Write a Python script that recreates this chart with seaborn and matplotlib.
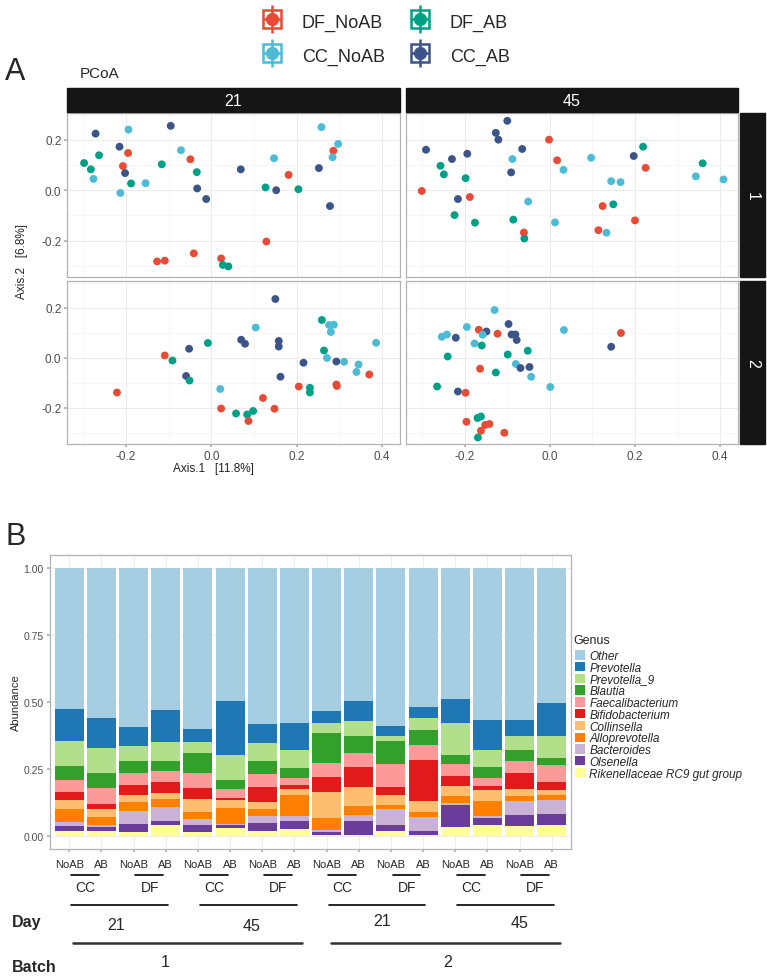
import numpy as np
import pandas as pd
import matplotlib
matplotlib.use('Agg')
import matplotlib.pyplot as plt
import matplotlib.transforms as mtrans
from matplotlib.ticker import FormatStrFormatter
import seaborn as sns
from matplotlib.lines import Line2D
from matplotlib.patches import Patch, Rectangle
from matplotlib.legend_handler import HandlerTuple

sns.set_theme(style="white")
plt.rcParams['font.family'] = ['Liberation Sans', 'DejaVu Sans']

W, H = 767, 979

# ---------------- Panel A: PCoA ----------------
grupos = {'DN': 'DF_NoAB', 'DA': 'DF_AB', 'CN': 'CC_NoAB', 'CA': 'CC_AB'}
colores = {'DF_NoAB': '#E64B35', 'DF_AB': '#00A087',
           'CC_NoAB': '#4DBBD5', 'CC_AB': '#3C5488'}

# batch 1, day 21
b1d21_x = [-0.271, -0.194, -0.095, 0.258, 0.297, 0.286, 0.284, -0.215, -0.195, -0.263,
           -0.298, -0.282, -0.276, -0.207, -0.202, -0.188, -0.213, -0.154, -0.116, -0.071,
           -0.049, -0.034, -0.033, -0.012, 0.069, 0.147, 0.181, 0.127, 0.152, 0.204,
           0.252, 0.278, 0.129, -0.041, -0.127, -0.109, 0.023, 0.027, 0.040]
b1d21_y = [0.225, 0.241, 0.256, 0.251, 0.184, 0.157, 0.131, 0.173, 0.148, 0.139,
           0.108, 0.083, 0.045, 0.096, 0.068, 0.027, -0.011, 0.028, 0.103, 0.159,
           0.123, 0.072, 0.007, -0.035, 0.083, 0.127, 0.061, 0.011, 0.000, 0.004,
           0.088, -0.063, -0.204, -0.251, -0.283, -0.280, -0.271, -0.297, -0.303]
b1d21_g = ['CA', 'CN', 'CA', 'CN', 'CN', 'DN', 'CN', 'CA', 'DN', 'DA',
           'DA', 'DA', 'CN', 'DN', 'CA', 'DA', 'CN', 'CN', 'DA', 'CN',
           'DN', 'DA', 'CA', 'CA', 'CA', 'CN', 'DN', 'DA', 'CA', 'DA',
           'CA', 'CA', 'DN', 'DN', 'DN', 'DN', 'DN', 'DA', 'DA']

# batch 1, day 45
b1d45_x = [-0.100, -0.127, -0.121, -0.291, -0.230, -0.194, -0.065, -0.091, -0.216, 0.197,
           -0.002, 0.017, -0.301, -0.188, -0.061, 0.124, 0.114, 0.200, 0.225,
           0.219, 0.359, -0.257, -0.249, -0.198, -0.224, -0.176, -0.086, -0.060, 0.149,
           -0.088, 0.032, 0.097, 0.144, 0.166, 0.343, 0.408, -0.051, 0.012, 0.133]
b1d45_y = [0.276, 0.228, 0.201, 0.161, 0.124, 0.145, 0.164, 0.071, -0.035, 0.136,
           0.201, 0.119, -0.003, -0.027, -0.168, -0.063, -0.159, -0.120, 0.089,
           0.173, 0.107, 0.097, 0.063, 0.048, -0.099, -0.129, -0.117, -0.192, -0.056,
           0.124, 0.081, 0.129, 0.036, 0.032, 0.055, 0.043, -0.045, -0.128, -0.169]
b1d45_g = ['CA'] * 10 + ['DN'] * 9 + ['DA'] * 10 + ['CN'] * 10

# batch 2, day 21
b2d21_x = [0.150, 0.259, 0.276, 0.287, 0.280, 0.104, 0.070, 0.079, 0.158, 0.158,
           -0.008, -0.052, -0.109, -0.091, -0.059, -0.051, 0.386, 0.264, 0.271, 0.216,
           0.293, 0.311, 0.345, 0.340, 0.370, 0.162, 0.205, 0.293, 0.294, 0.231,
           0.231, -0.221, 0.021, 0.023, 0.058, 0.084, 0.098, 0.087, 0.121, 0.148]
b2d21_y = [0.235, 0.151, 0.131, 0.132, 0.103, 0.121, 0.072, 0.056, 0.067, 0.045,
           0.059, 0.036, 0.009, -0.011, -0.073, -0.091, 0.060, 0.029, -0.001, -0.020,
           -0.015, -0.016, -0.027, -0.057, -0.067, -0.076, -0.115, -0.107, -0.113, -0.120,
           -0.139, -0.139, -0.125, -0.203, -0.223, -0.227, -0.213, -0.253, -0.161, -0.204]
b2d21_g = ['CA', 'DA', 'CN', 'CN', 'CN', 'CN', 'CA', 'CA', 'CA', 'CA',
           'DA', 'CA', 'DN', 'DA', 'CA', 'DA', 'CN', 'DA', 'CN', 'CA',
           'CA', 'CN', 'CN', 'CN', 'DN', 'CA', 'DN', 'DN', 'DN', 'DA',
           'DA', 'DN', 'CN', 'DN', 'DA', 'DA', 'DA', 'DN', 'DN', 'DN']

# batch 2, day 45
b2d45_x = [-0.130, -0.097, -0.195, -0.167, -0.149, -0.158, -0.123, -0.090, -0.081, -0.078,
           -0.254, -0.242, -0.221, -0.177, -0.160, -0.240, -0.099, -0.052, 0.033, 0.167,
           0.144, -0.164, -0.127, -0.080, -0.069, -0.048, -0.044, 0.001, -0.265, -0.216,
           -0.198, -0.196, -0.170, -0.162, -0.152, -0.142, -0.162, -0.107, -0.169]
b2d45_y = [0.191, 0.135, 0.123, 0.112, 0.105, 0.092, 0.096, 0.093, 0.093, 0.071,
           0.084, 0.093, 0.080, 0.057, 0.049, 0.005, 0.013, 0.028, 0.111, 0.099,
           0.044, -0.044, -0.059, -0.025, -0.041, -0.037, -0.076, -0.117, -0.115, -0.135,
           -0.140, -0.256, -0.241, -0.235, -0.269, -0.265, -0.292, -0.300, -0.319]
b2d45_g = ['CN', 'CA', 'CN', 'DN', 'CA', 'CN', 'DN', 'CA', 'CA', 'CA',
           'CN', 'CN', 'CA', 'CN', 'DA', 'DA', 'DA', 'DA', 'CN', 'DN',
           'CA', 'DN', 'DA', 'CN', 'CA', 'CA', 'CN', 'CN', 'DA', 'CA',
           'DN', 'DN', 'DA', 'DA', 'DN', 'DN', 'DN', 'DN', 'DA']

# ---------------- Panel B: abundancias ----------------
generos = ['Other', 'Prevotella', 'Prevotella_9', 'Blautia', 'Faecalibacterium',
           'Bifidobacterium', 'Collinsella', 'Alloprevotella', 'Bacteroides',
           'Olsenella', 'Rikenellaceae RC9 gut group']
other = [0.527, 0.562, 0.595, 0.529, 0.600, 0.499, 0.583, 0.579,
         0.536, 0.498, 0.593, 0.520, 0.491, 0.566, 0.566, 0.503]
prevotella = [0.120, 0.110, 0.070, 0.121, 0.050, 0.201, 0.074, 0.102,
              0.045, 0.075, 0.035, 0.039, 0.087, 0.114, 0.061, 0.126]
prevotella_9 = [0.092, 0.093, 0.056, 0.069, 0.042, 0.094, 0.065, 0.066,
                0.037, 0.055, 0.019, 0.046, 0.123, 0.062, 0.053, 0.080]
blautia = [0.054, 0.056, 0.044, 0.040, 0.074, 0.034, 0.049, 0.037,
           0.110, 0.065, 0.088, 0.057, 0.031, 0.043, 0.039, 0.027]
faecalibacterium = [0.045, 0.060, 0.044, 0.041, 0.055, 0.032, 0.048, 0.026,
                    0.055, 0.050, 0.084, 0.054, 0.046, 0.030, 0.047, 0.063]
bifidobacterium = [0.030, 0.019, 0.040, 0.040, 0.041, 0.008, 0.057, 0.018,
                   0.054, 0.077, 0.030, 0.154, 0.039, 0.015, 0.058, 0.032]
collinsella = [0.032, 0.033, 0.026, 0.024, 0.049, 0.028, 0.028, 0.022,
               0.099, 0.071, 0.039, 0.040, 0.036, 0.041, 0.027, 0.016]
alloprevotella = [0.051, 0.027, 0.034, 0.027, 0.025, 0.060, 0.025, 0.078,
                  0.045, 0.031, 0.015, 0.020, 0.025, 0.054, 0.019, 0.018]
bacteroides = [0.015, 0.008, 0.047, 0.053, 0.023, 0.006, 0.025, 0.020,
               0.005, 0.024, 0.061, 0.054, 0.010, 0.009, 0.054, 0.054]
olsenella = [0.019, 0.017, 0.031, 0.016, 0.028, 0.009, 0.032, 0.027,
             0.012, 0.051, 0.022, 0.013, 0.082, 0.026, 0.041, 0.042]
rikenellaceae = [0.016, 0.016, 0.013, 0.040, 0.013, 0.030, 0.016, 0.026,
                 0.003, 0.004, 0.016, 0.003, 0.031, 0.040, 0.035, 0.039]

batch = ['1'] * 8 + ['2'] * 8
day = (['21'] * 4 + ['45'] * 4) * 2
sitio = ['CC', 'CC', 'DF', 'DF'] * 4
trat = ['NoAB', 'AB'] * 8

# ---------------- Helpers ----------------
def caja(x0, y0, x1, y1):
    return [x0 / W, 1 - y1 / H, (x1 - x0) / W, (y1 - y0) / H]

def fy(py):
    return 1 - py / H

fig = plt.figure(figsize=(W / 100, H / 100), dpi=100)

# ---------------- Panel A ----------------
facetas = [
    (b1d21_x, b1d21_y, b1d21_g, (67, 114, 400, 278), True, False),
    (b1d45_x, b1d45_y, b1d45_g, (406, 114, 738, 278), False, False),
    (b2d21_x, b2d21_y, b2d21_g, (67, 282, 400, 445), True, True),
    (b2d45_x, b2d45_y, b2d45_g, (406, 282, 738, 445), False, True),
]

for xs, ys, gs, bx, izq, abajo in facetas:
    ax = fig.add_axes(caja(*bx))
    d = pd.DataFrame({'Axis1': xs, 'Axis2': ys, 'grupo': [grupos[g] for g in gs]})
    sns.scatterplot(data=d, x='Axis1', y='Axis2', hue='grupo', palette=colores,
                    s=32, linewidth=0, legend=False, ax=ax, zorder=3)
    ax.set_xlim(-0.338, 0.442)
    ax.set_ylim(-0.345, 0.307)
    ax.set_xticks([-0.2, 0.0, 0.2, 0.4])
    ax.set_xticks([-0.3, -0.1, 0.1, 0.3], minor=True)
    ax.set_yticks([-0.2, 0.0, 0.2])
    ax.set_yticks([-0.3, -0.1, 0.1, 0.3], minor=True)
    ax.xaxis.set_major_formatter(FormatStrFormatter('%.1f'))
    ax.yaxis.set_major_formatter(FormatStrFormatter('%.1f'))
    ax.grid(which='major', color='#EBEBEB', lw=0.7)
    ax.grid(which='minor', color='#F3F3F3', lw=0.5)
    ax.set_axisbelow(True)
    for s in ax.spines.values():
        s.set_color('#B3B3B3')
        s.set_linewidth(0.9)
    ax.tick_params(which='minor', length=0)
    ax.tick_params(which='major', length=2.5, color='#B3B3B3', labelsize=8.5,
                   labelcolor='#4D4D4D', pad=1.5, bottom=abajo, left=izq,
                   labelbottom=abajo, labelleft=izq)
    ax.set_xlabel('')
    ax.set_ylabel('')

# strips
strip_col = '#151515'
for x0, x1, lab in [(67, 400, '21'), (406, 738, '45')]:
    fig.add_artist(Rectangle((x0 / W, fy(113)), (x1 - x0) / W, 24 / H,
                             transform=fig.transFigure, color=strip_col))
    fig.text((x0 + x1) / 2 / W, fy(101), lab, color='white', fontsize=11.5,
             ha='center', va='center')
for y0, y1, lab in [(114, 278, '1'), (282, 445, '2')]:
    fig.add_artist(Rectangle((740 / W, fy(y1)), 25 / W, (y1 - y0) / H,
                             transform=fig.transFigure, color=strip_col))
    fig.text(752.5 / W, fy((y0 + y1) / 2), lab, color='white', fontsize=11.5,
             ha='center', va='center', rotation=270)

fig.text(5 / W, fy(72), 'A', fontsize=22, ha='left', va='center')
fig.text(80 / W, fy(74), 'PCoA', fontsize=11, ha='left', va='center')
fig.text(22 / W, fy(262), 'Axis.2   [6.8%]', fontsize=8.5, rotation=90,
         ha='center', va='center', color='#222222')
fig.text(213 / W, fy(469), 'Axis.1   [11.8%]', fontsize=8.5,
         ha='center', va='center', color='#222222')

# leyenda superior (clave tipo punto + barras de error)
def clave(c):
    return (Line2D([0], [0], ls='none', marker='s', markersize=13,
                   markerfacecolor='white', markeredgecolor=c, markeredgewidth=1.8),
            Line2D([0], [0], ls='none', marker='|', markersize=20,
                   markeredgecolor=c, markeredgewidth=1.8),
            Line2D([0], [0], ls='none', marker='_', markersize=13,
                   markeredgecolor=c, markeredgewidth=1.8),
            Line2D([0], [0], ls='none', marker='o', markersize=8.5,
                   markerfacecolor=c, markeredgecolor=c))

orden_leg = ['DF_NoAB', 'CC_NoAB', 'DF_AB', 'CC_AB']
fig.legend([clave(colores[k]) for k in orden_leg], orden_leg, ncol=2,
           loc='upper center', bbox_to_anchor=(0.503, 1.0), frameon=False,
           fontsize=13, handler_map={tuple: HandlerTuple(ndivide=1, pad=0)},
           handlelength=1.1, handleheight=1.2, handletextpad=1.1,
           columnspacing=1.4, labelspacing=0.8, borderpad=0.2)

# ---------------- Panel B ----------------
valores = [other, prevotella, prevotella_9, blautia, faecalibacterium,
           bifidobacterium, collinsella, alloprevotella, bacteroides,
           olsenella, rikenellaceae]
muestras = [f'{b}-{d}-{s}-{t}' for b, d, s, t in zip(batch, day, sitio, trat)]
filas = []
for gen, vals in zip(generos, valores):
    for m, v in zip(muestras, vals):
        filas.append({'muestra': m, 'Genus': gen, 'Abundance': v})
df_b = pd.DataFrame(filas)
df_b['muestra'] = pd.Categorical(df_b['muestra'], categories=muestras, ordered=True)

paleta = sns.color_palette('Paired', 11)
axb = fig.add_axes(caja(50, 556, 571, 850))
sns.histplot(data=df_b, x='muestra', weights='Abundance', hue='Genus',
             hue_order=generos, palette=paleta, multiple='stack', discrete=True,
             shrink=0.9, linewidth=0, alpha=1, legend=False, ax=axb, zorder=3)
axb.set_xlim(-0.6, 15.6)
axb.set_ylim(-0.05, 1.05)
axb.set_yticks([0, 0.25, 0.5, 0.75, 1.0])
axb.yaxis.set_major_formatter(FormatStrFormatter('%.2f'))
axb.set_xticks(range(16))
axb.set_xticklabels([])
axb.grid(which='major', color='#EBEBEB', lw=0.6)
axb.set_axisbelow(True)
for s in axb.spines.values():
    s.set_color('#B3B3B3')
    s.set_linewidth(0.9)
axb.tick_params(length=2.5, color='#B3B3B3', labelsize=7.5, labelcolor='#4D4D4D',
                pad=2, bottom=True, left=True)
axb.set_xlabel('')
axb.set_ylabel('Abundance', fontsize=8)
axb.yaxis.set_label_coords(-0.056, 0.5)

fig.text(573 / W, fy(641), 'Genus', fontsize=9, ha='left', va='center')
hand_b = [Patch(facecolor=c, edgecolor='none') for c in paleta]
fig.legend(hand_b, generos, loc='upper left',
           bbox_to_anchor=(575 / W, fy(651)), frameon=False,
           prop={'style': 'italic', 'size': 8.5},
           handlelength=0.85, handleheight=0.85, handletextpad=0.35,
           labelspacing=-0.02, borderpad=0, borderaxespad=0)

fig.text(5 / W, fy(537), 'B', fontsize=22, ha='left', va='center')

# etiquetas jerarquicas bajo las barras
tr = mtrans.blended_transform_factory(axb.transData, fig.transFigure)
for i, t in enumerate(trat):
    axb.text(i, fy(865), t, transform=tr, ha='center', va='center', fontsize=8)
for k in range(8):
    i = 2 * k
    axb.plot([i + 0.05, i + 0.92], [fy(876)] * 2, transform=tr, color='black',
             lw=1.2, clip_on=False)
    axb.text(i + 0.5, fy(888), sitio[i], transform=tr, ha='center', va='center',
             fontsize=10)
for m in range(4):
    i = 4 * m
    axb.plot([i + 0.06, i + 3.07], [fy(906)] * 2, transform=tr, color='black',
             lw=1.2, clip_on=False)
pos_dia = [1.46, 5.68, 9.72, 13.99]
dias = [day[0], day[4], day[8], day[12]]
for p, d, py in zip(pos_dia, dias, [926, 927, 922, 923]):
    axb.text(p, fy(py), d, transform=tr, ha='center', va='center', fontsize=11.5)
for a, b in [(0.12, 7.23), (8.14, 15.26)]:
    axb.plot([a, b], [fy(944)] * 2, transform=tr, color='#333333', lw=1.8,
             clip_on=False)
for p, b in zip([2.97, 11.77], [batch[0], batch[8]]):
    axb.text(p, fy(963), b, transform=tr, ha='center', va='center', fontsize=11.5)
fig.text(12 / W, fy(923), 'Day', fontsize=11.5, fontweight='bold', ha='left',
         va='center')
fig.text(12 / W, fy(968), 'Batch', fontsize=11.5, fontweight='bold', ha='left',
         va='center')

fig.savefig('out.png', dpi=100)
